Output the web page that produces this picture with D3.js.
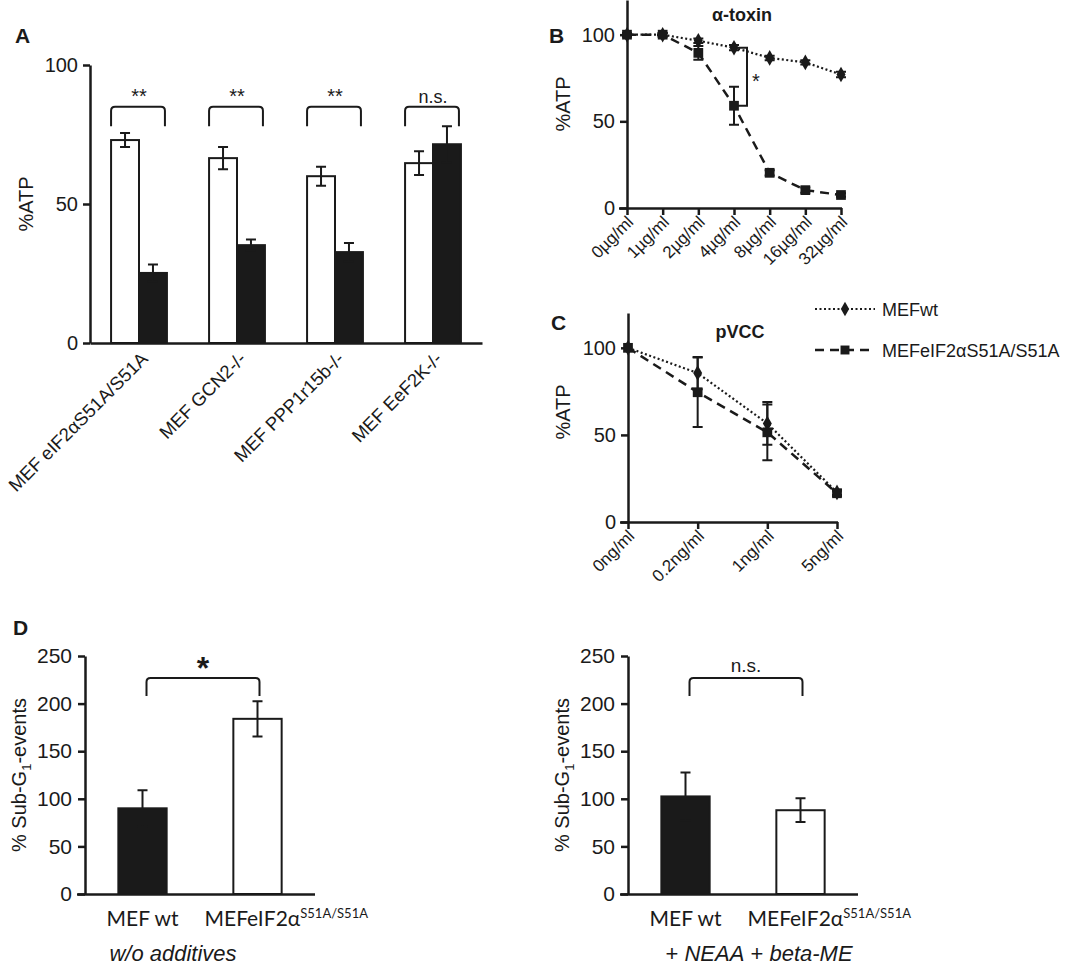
<!DOCTYPE html>
<html>
<head>
<meta charset="utf-8">
<script src="https://cdn.jsdelivr.net/npm/d3@7"></script>
<style>
  body { margin: 0; background: #fff; }
</style>
</head>
<body>
<div id="chart"></div>
<script>
// Panel A: ATP after toxin, wt (white) vs knock-out/mutant (black)
const groupsA = ["MEF eIF2αS51A/S51A", "MEF GCN2-/-", "MEF PPP1r15b-/-", "MEF EeF2K-/-"];
const wtA = [73, 66.5, 60, 64.7];
const wtAErr = [2.5, 4, 3.4, 4.3];
const mutA = [25.2, 35.2, 32.7, 71.5];
const mutAErr = [3, 2, 3.3, 6.5];
const sigA = ["**", "**", "**", "n.s."];

// Panel B: alpha-toxin dose response
const doseB = ["0µg/ml", "1µg/ml", "2µg/ml", "4µg/ml", "8µg/ml", "16µg/ml", "32µg/ml"];
const wtB = [100, 100, 96.5, 92.5, 86.6, 84, 77];
const wtBErr = [1, 1, 1.3, 1.5, 1.3, 1.2, 1.6];
const mutB = [100, 100, 89.5, 59, 20.3, 10.3, 7.5];
const mutBErr = [1, 1, 4, 11, 1.5, 1.5, 1];

// Panel C: pVCC dose response
const doseC = ["0ng/ml", "0.2ng/ml", "1ng/ml", "5ng/ml"];
const wtC = [100, 85.5, 56.6, 17];
const wtCErr = [0, 9.3, 12.3, 1.5];
const mutC = [100, 74.5, 51.5, 16.5];
const mutCErr = [0, 20, 16, 1.5];

const seriesNames = ["MEFwt", "MEFeIF2αS51A/S51A"];

// Panel D: sub-G1 events
const groupsD = ["MEF wt", "MEFeIF2α"];
const supD = "S51A/S51A";
const subG1Plain = [90, 184];
const subG1PlainErr = [19, 18.5];
const subG1Added = [102.5, 88];
const subG1AddedErr = [25, 12.5];
const ticksD = [0, 50, 100, 150, 200, 250];

const FONT = "'Liberation Sans', Arial, sans-serif";
const INK = "#1a1a1a";

const svg = d3.select("#chart")
  .append("svg")
  .attr("width", 1068)
  .attr("height", 971)
  .style("background", "#fff");

function styleAxis(g, size) {
  g.attr("font-family", FONT).attr("font-size", size);
  g.select(".domain").attr("stroke", INK).attr("stroke-width", 2.5);
  g.selectAll(".tick line").attr("stroke", INK).attr("stroke-width", 2.5);
  g.selectAll(".tick text").attr("fill", INK);
  return g;
}

function errorBars(g, items, cap) {
  g.selectAll(null)
    .data(items)
    .join("path")
    .attr("fill", "none")
    .attr("stroke", INK)
    .attr("stroke-width", 2)
    .attr("d", (d) =>
      `M${d.x - cap},${d.hi}H${d.x + cap}M${d.x},${d.hi}V${d.lo}M${d.x - cap},${d.lo}H${d.x + cap}`
    );
}

function bracket(g, x0, x1, yTop, yEnd) {
  const r = 4;
  g.append("path")
    .attr("fill", "none")
    .attr("stroke", INK)
    .attr("stroke-width", 2)
    .attr("d",
      `M${x0},${yEnd}V${yTop + r}Q${x0},${yTop} ${x0 + r},${yTop}H${x1 - r}Q${x1},${yTop} ${x1},${yTop + r}V${yEnd}`);
}

function panelLetter(text, x, y) {
  svg.append("text")
    .attr("x", x).attr("y", y)
    .attr("font-family", FONT)
    .attr("font-size", 21)
    .attr("font-weight", "bold")
    .attr("fill", INK)
    .text(text);
}

function yLabel(text, x, y, size) {
  return svg.append("text")
    .attr("transform", `translate(${x},${y}) rotate(-90)`)
    .attr("text-anchor", "middle")
    .attr("font-family", FONT)
    .attr("font-size", size)
    .attr("fill", INK)
    .text(text);
}

// ---------- Panel A ----------
{
  const g = svg.append("g");
  const x = d3.scaleBand().domain(groupsA).range([90, 482]).paddingInner(0.43).paddingOuter(0.215);
  const y = d3.scaleLinear().domain([0, 100]).range([343, 65]);
  const half = x.bandwidth() / 2;

  const rows = groupsA.map((name, i) => ({ name, wt: wtA[i], wtErr: wtAErr[i], mut: mutA[i], mutErr: mutAErr[i], sig: sigA[i] }));

  g.selectAll("rect.wt")
    .data(rows)
    .join("rect")
    .attr("x", (d) => x(d.name))
    .attr("y", (d) => y(d.wt))
    .attr("width", half)
    .attr("height", (d) => y(0) - y(d.wt))
    .attr("fill", "#fff")
    .attr("stroke", INK)
    .attr("stroke-width", 2);

  g.selectAll("rect.mut")
    .data(rows)
    .join("rect")
    .attr("x", (d) => x(d.name) + half)
    .attr("y", (d) => y(d.mut))
    .attr("width", half)
    .attr("height", (d) => y(0) - y(d.mut))
    .attr("fill", INK)
    .attr("stroke", INK)
    .attr("stroke-width", 2);

  errorBars(g, rows.flatMap((d) => [
    { x: x(d.name) + half / 2, hi: y(d.wt + d.wtErr), lo: y(d.wt - d.wtErr) },
    { x: x(d.name) + half * 1.5, hi: y(d.mut + d.mutErr), lo: y(d.mut - d.mutErr) },
  ]), 5);

  rows.forEach((d) => {
    const x0 = x(d.name), x1 = x(d.name) + x.bandwidth();
    bracket(g, x0, x1 - 2, y(85), y(78));
    g.append("text")
      .attr("x", (x0 + x1) / 2)
      .attr("y", y(86.5))
      .attr("text-anchor", "middle")
      .attr("font-family", FONT)
      .attr("font-size", d.sig === "n.s." ? 18 : 20)
      .attr("fill", INK)
      .text(d.sig);
  });

  styleAxis(g.append("g")
    .attr("transform", "translate(90,0)")
    .call(d3.axisLeft(y).tickValues([0, 50, 100]).tickSize(7).tickSizeOuter(0).tickPadding(5)), 20);

  const xa = styleAxis(g.append("g")
    .attr("transform", "translate(0,343)")
    .call(d3.axisBottom(x).tickSize(0).tickSizeOuter(0)), 18.5);
  xa.selectAll(".tick text")
    .attr("y", 0)
    .attr("dy", 0)
    .attr("text-anchor", "end")
    .attr("transform", "translate(10,17) rotate(-45)");

  yLabel("%ATP", 33, 204, 20);
  panelLetter("A", 15, 43);
}

// ---------- line panels (B, C) ----------
function dosePanel(opts) {
  const g = svg.append("g");
  const x = d3.scalePoint().domain(opts.doses).range([opts.left, opts.right]);
  const y = d3.scaleLinear().domain([0, 120]).range([opts.bottom, opts.top]);

  const wt = opts.doses.map((dose, i) => ({ dose, v: opts.wt[i], e: opts.wtErr[i] }));
  const mut = opts.doses.map((dose, i) => ({ dose, v: opts.mut[i], e: opts.mutErr[i] }));
  const line = d3.line().x((d) => x(d.dose)).y((d) => y(d.v));

  styleAxis(g.append("g")
    .attr("transform", `translate(${opts.left},0)`)
    .call(d3.axisLeft(y).tickValues([0, 50, 100]).tickSize(7).tickSizeOuter(0).tickPadding(5)), 20);

  const xa = styleAxis(g.append("g")
    .attr("transform", `translate(0,${opts.bottom})`)
    .call(d3.axisBottom(x).tickSize(7).tickSizeOuter(0)), 17);
  xa.select(".domain").attr("d", `M${opts.left - 8},0.5H${opts.right + 1}`);
  xa.selectAll(".tick text")
    .attr("y", 0)
    .attr("dy", 0)
    .attr("text-anchor", "end")
    .attr("transform", "translate(7,15) rotate(-45)");

  g.append("path")
    .datum(mut)
    .attr("d", line)
    .attr("fill", "none")
    .attr("stroke", INK)
    .attr("stroke-width", 2.5)
    .attr("stroke-dasharray", "9,6");

  g.append("path")
    .datum(wt)
    .attr("d", line)
    .attr("fill", "none")
    .attr("stroke", INK)
    .attr("stroke-width", 2.2)
    .attr("stroke-dasharray", "2,2.5");

  errorBars(g, wt.filter((d) => d.e > 0).map((d) => ({ x: x(d.dose), hi: y(d.v + d.e), lo: y(d.v - d.e) })), 5);
  errorBars(g, mut.filter((d) => d.e > 0).map((d) => ({ x: x(d.dose), hi: y(d.v + d.e), lo: y(d.v - d.e) })), 5);

  g.selectAll(null)
    .data(mut)
    .join("path")
    .attr("transform", (d) => `translate(${x(d.dose)},${y(d.v)})`)
    .attr("d", d3.symbol(d3.symbolSquare, 95))
    .attr("fill", INK);

  g.selectAll(null)
    .data(wt)
    .join("path")
    .attr("transform", (d) => `translate(${x(d.dose)},${y(d.v)})`)
    .attr("d", d3.symbol(d3.symbolDiamond, 70))
    .attr("fill", INK);

  g.append("text")
    .attr("x", opts.titleX)
    .attr("y", opts.titleY)
    .attr("text-anchor", "middle")
    .attr("font-family", FONT)
    .attr("font-size", 18)
    .attr("font-weight", "bold")
    .attr("fill", INK)
    .text(opts.title);

  return { g, x, y, wt, mut };
}

// Panel B
{
  const p = dosePanel({
    doses: doseB, wt: wtB, wtErr: wtBErr, mut: mutB, mutErr: mutBErr,
    left: 627, right: 841, top: 0, bottom: 208,
    title: "α-toxin", titleX: 742, titleY: 21,
  });
  // significance bracket at 4µg/ml
  const d = doseB[3];
  const bx = p.x(d) + 13;
  p.g.append("path")
    .attr("fill", "none")
    .attr("stroke", INK)
    .attr("stroke-width", 2)
    .attr("d", `M${p.x(d) + 3},${p.y(wtB[3])}H${bx}V${p.y(mutB[3])}H${p.x(d) + 3}`);
  p.g.append("text")
    .attr("x", bx + 9)
    .attr("y", p.y(69))
    .attr("text-anchor", "middle")
    .attr("font-family", FONT)
    .attr("font-size", 20)
    .attr("fill", INK)
    .text("*");
  yLabel("%ATP", 570, 104, 20);
  panelLetter("B", 549, 43);
}

// Panel C
{
  dosePanel({
    doses: doseC, wt: wtC, wtErr: wtCErr, mut: mutC, mutErr: mutCErr,
    left: 628, right: 837, top: 313, bottom: 522,
    title: "pVCC", titleX: 740, titleY: 338,
  });
  yLabel("%ATP", 570, 412, 20);
  panelLetter("C", 551, 330);

  // legend
  const lg = svg.append("g").attr("transform", "translate(815,309)");
  const items = lg.selectAll("g")
    .data(seriesNames)
    .join("g")
    .attr("transform", (d, i) => `translate(0,${i * 41})`);
  items.append("line")
    .attr("x1", 0).attr("x2", 60)
    .attr("stroke", INK)
    .attr("stroke-width", (d, i) => (i === 0 ? 2.2 : 2.5))
    .attr("stroke-dasharray", (d, i) => (i === 0 ? "2,2.5" : "9,6"));
  items.append("path")
    .attr("transform", "translate(30,0)")
    .attr("d", (d, i) => d3.symbol(i === 0 ? d3.symbolDiamond : d3.symbolSquare, i === 0 ? 60 : 80)())
    .attr("fill", INK);
  items.append("text")
    .attr("x", 67)
    .attr("y", 7)
    .attr("font-family", FONT)
    .attr("font-size", 18)
    .attr("fill", INK)
    .text((d) => d);
}

// ---------- Panel D ----------
function subG1Panel(opts) {
  const g = svg.append("g");
  const x = d3.scaleBand().domain(groupsD).range([opts.left, opts.left + 230]).paddingInner(0.58).paddingOuter(0.29);
  const y = d3.scaleLinear().domain([0, 250]).range([894, 656]);
  const rows = groupsD.map((name, i) => ({ name, v: opts.values[i], e: opts.errs[i] }));

  g.selectAll(null)
    .data(rows)
    .join("rect")
    .attr("x", (d) => x(d.name))
    .attr("y", (d) => y(d.v))
    .attr("width", x.bandwidth())
    .attr("height", (d) => y(0) - y(d.v))
    .attr("fill", (d, i) => (i === 0 ? INK : "#fff"))
    .attr("stroke", INK)
    .attr("stroke-width", 2);

  errorBars(g, rows.map((d) => ({ x: x(d.name) + x.bandwidth() / 2, hi: y(d.v + d.e), lo: y(d.v - d.e) })), 5);

  styleAxis(g.append("g")
    .attr("transform", `translate(${opts.left},0)`)
    .call(d3.axisLeft(y).tickValues(ticksD).tickSize(7).tickSizeOuter(0).tickPadding(6)), 21);

  const xa = styleAxis(g.append("g")
    .attr("transform", "translate(0,894)")
    .call(d3.axisBottom(x).tickSize(0).tickSizeOuter(0)), 19);
  xa.select(".domain").attr("d", `M${opts.left - 8},0.5H${opts.left + 230}`);
  xa.selectAll(".tick text").remove();

  // category labels with superscript
  rows.forEach((d, i) => {
    const cx = x(d.name) + x.bandwidth() / 2;
    const t = g.append("text")
      .attr("x", i === 0 ? cx : cx - 53)
      .attr("y", 926)
      .attr("text-anchor", i === 0 ? "middle" : "start")
      .attr("font-family", "Lato, 'Open Sans', sans-serif")
      .attr("font-size", 21)
      .attr("fill", INK)
      .text(d.name);
    if (i === 1) {
      t.append("tspan")
        .attr("dy", -8)
        .attr("font-size", 13)
        .text(supD);
    }
  });

  const c0 = x(groupsD[0]) + x.bandwidth() / 2 + 4;
  const c1 = x(groupsD[1]) + x.bandwidth() / 2 + 2;
  bracket(g, c0, c1, y(227), y(208));
  g.append("text")
    .attr("x", (c0 + c1) / 2)
    .attr("y", opts.sig === "*" ? y(226) : y(233))
    .attr("text-anchor", "middle")
    .attr("font-family", FONT)
    .attr("font-size", opts.sig === "*" ? 32 : 19)
    .attr("font-weight", opts.sig === "*" ? "bold" : "normal")
    .attr("fill", INK)
    .text(opts.sig);

  // y label with subscript
  const yl = svg.append("text")
    .attr("transform", `translate(${opts.left - 59},775) rotate(-90)`)
    .attr("text-anchor", "middle")
    .attr("font-family", FONT)
    .attr("font-size", 20)
    .attr("fill", INK);
  yl.append("tspan").text("% Sub-G");
  yl.append("tspan").attr("font-size", 13).attr("dy", 5).text("1");
  yl.append("tspan").attr("dy", -5).text("-events");

  // condition caption
  const cap = svg.append("text")
    .attr("x", opts.captionX)
    .attr("y", 961)
    .attr("text-anchor", "middle")
    .attr("font-family", FONT)
    .attr("font-size", 22)
    .attr("fill", INK);
  opts.caption.forEach((part) => {
    cap.append("tspan").attr("font-style", part.italic ? "italic" : "normal").text(part.text);
  });
}

subG1Panel({
  left: 85, values: subG1Plain, errs: subG1PlainErr, sig: "*",
  captionX: 173, caption: [{ text: "w/o additives", italic: true }],
});
subG1Panel({
  left: 628, values: subG1Added, errs: subG1AddedErr, sig: "n.s.",
  captionX: 759,
  caption: [
    { text: "+ ", italic: false }, { text: "NEAA", italic: true },
    { text: " + ", italic: false }, { text: "beta-ME", italic: true },
  ],
});
panelLetter("D", 13, 635);
</script>
</body>
</html>
